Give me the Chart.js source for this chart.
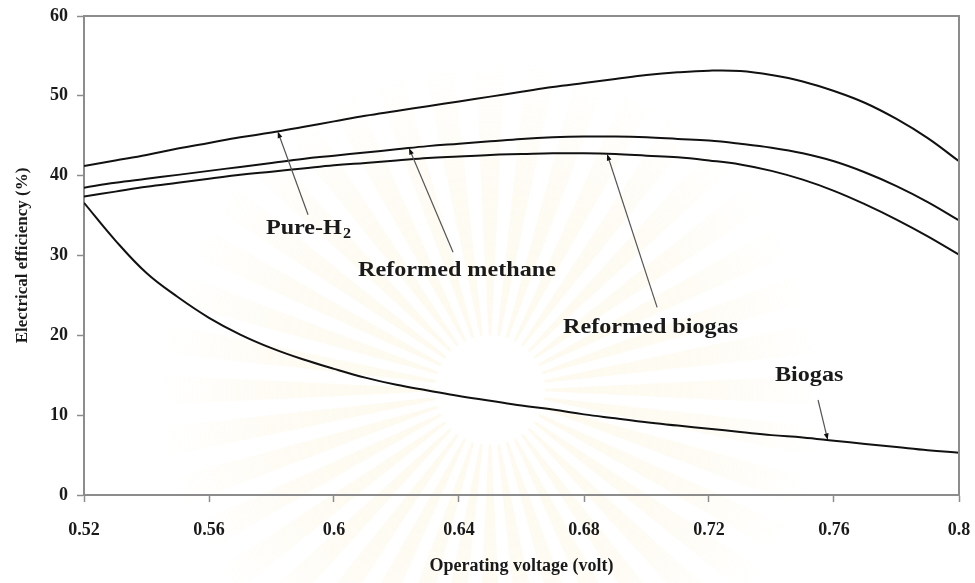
<!DOCTYPE html>
<html>
<head>
<meta charset="utf-8">
<title>Electrical efficiency vs operating voltage</title>
<script src="https://cdn.jsdelivr.net/npm/chart.js@4.4.1/dist/chart.umd.min.js"></script>
<style>
  html, body { margin: 0; padding: 0; background: #fff; }
  #wrap { width: 975px; height: 583px; }
</style>
</head>
<body>
<div id="wrap"><canvas id="myChart"></canvas></div>
<script>
// operating voltage (V)
var voltage = [0.52, 0.53, 0.54, 0.55, 0.56, 0.57, 0.58, 0.59, 0.60, 0.61,
               0.62, 0.63, 0.64, 0.65, 0.66, 0.67, 0.68, 0.69, 0.70, 0.71,
               0.72, 0.73, 0.74, 0.75, 0.76, 0.77, 0.78, 0.79, 0.80];

// electrical efficiency (%) for each fuel
var pureH2 = [41.2, 41.9, 42.6, 43.4, 44.1, 44.8, 45.4, 46.1, 46.8, 47.5,
              48.1, 48.7, 49.3, 49.9, 50.5, 51.1, 51.6, 52.1, 52.6, 52.95,
              53.15, 53.1, 52.6, 51.8, 50.6, 49.1, 47.1, 44.7, 41.8];
var reformedMethane = [38.5, 39.1, 39.6, 40.1, 40.6, 41.1, 41.6, 42.1, 42.5, 42.9,
                       43.3, 43.7, 44.0, 44.3, 44.6, 44.8, 44.9, 44.9, 44.8, 44.6,
                       44.4, 44.0, 43.5, 42.8, 41.8, 40.4, 38.7, 36.7, 34.4];
var reformedBiogas = [37.4, 38.0, 38.6, 39.1, 39.6, 40.1, 40.5, 40.9, 41.3, 41.6,
                      41.9, 42.2, 42.4, 42.6, 42.7, 42.8, 42.8, 42.7, 42.5, 42.3,
                      41.9, 41.4, 40.6, 39.5, 38.1, 36.4, 34.5, 32.4, 30.1];
var biogas = [36.6, 31.9, 27.8, 24.8, 22.2, 20.1, 18.4, 17.0, 15.8, 14.7,
              13.8, 13.1, 12.4, 11.8, 11.2, 10.7, 10.1, 9.6, 9.1, 8.7,
              8.3, 7.9, 7.5, 7.2, 6.8, 6.4, 6.0, 5.6, 5.3];

var xTicks = [0.52, 0.56, 0.6, 0.64, 0.68, 0.72, 0.76, 0.8];
var yTicks = [0, 10, 20, 30, 40, 50, 60];

var seriesNames = ["Pure-H2", "Reformed methane", "Reformed biogas", "Biogas"];
var seriesValues = [pureH2, reformedMethane, reformedBiogas, biogas];

// callouts: label text (subscript separate), label anchor, arrow tail, and
// the voltage where the arrow lands on its curve
var calloutText = ["Pure-H", "Reformed methane", "Reformed biogas", "Biogas"];
var calloutSub = ["2", "", "", ""];
var labelX = [0.5782, 0.6077, 0.6733, 0.7411];
var labelY = [33.4, 28.1, 21.0, 15.0];
var tailX = [0.5917, 0.6381, 0.7034, 0.7549];
var tailY = [35.1, 30.4, 23.5, 11.9];
var tipX = [0.582, 0.624, 0.6874, 0.758];

var axisGray = "#8c8c8c";
var serif = "'Liberation Serif', 'Times New Roman', serif";

function valueAt(series, v) {
  for (var i = 0; i < voltage.length - 1; i++) {
    if (v >= voltage[i] && v <= voltage[i + 1]) {
      var t = (v - voltage[i]) / (voltage[i + 1] - voltage[i]);
      return series[i] + t * (series[i + 1] - series[i]);
    }
  }
  return series[series.length - 1];
}

// faint sunburst emblem behind the plot
var watermark = {
  id: "watermark",
  beforeDraw: function(chart) {
    var ctx = chart.ctx;
    var cx = 490, cy = 390, r0 = 55, r1 = 330, n = 40;
    ctx.save();
    var g = ctx.createRadialGradient(cx, cy, r0, cx, cy, r1);
    g.addColorStop(0, "rgba(246, 222, 150, 0.16)");
    g.addColorStop(0.6, "rgba(246, 222, 150, 0.10)");
    g.addColorStop(1, "rgba(246, 222, 150, 0)");
    ctx.fillStyle = g;
    for (var i = 0; i < n; i++) {
      var a = i * Math.PI * 2 / n;
      ctx.beginPath();
      ctx.moveTo(cx + r0 * Math.cos(a - 0.025), cy + r0 * Math.sin(a - 0.025));
      ctx.lineTo(cx + r1 * Math.cos(a - 0.045), cy + r1 * Math.sin(a - 0.045));
      ctx.lineTo(cx + r1 * Math.cos(a + 0.045), cy + r1 * Math.sin(a + 0.045));
      ctx.lineTo(cx + r0 * Math.cos(a + 0.025), cy + r0 * Math.sin(a + 0.025));
      ctx.closePath();
      ctx.fill();
    }
    ctx.restore();
  }
};

// top and right edges of the plot frame
var frame = {
  id: "frame",
  afterDraw: function(chart) {
    var a = chart.chartArea, ctx = chart.ctx;
    ctx.save();
    ctx.strokeStyle = axisGray;
    ctx.lineWidth = 2;
    ctx.beginPath();
    ctx.moveTo(a.left, a.top);
    ctx.lineTo(a.right, a.top);
    ctx.lineTo(a.right, a.bottom);
    ctx.stroke();
    ctx.restore();
  }
};

// arrows and labels naming each curve
var callouts = {
  id: "callouts",
  afterDatasetsDraw: function(chart) {
    var ctx = chart.ctx, xs = chart.scales.x, ys = chart.scales.y;
    ctx.save();
    for (var i = 0; i < calloutText.length; i++) {
      var x0 = xs.getPixelForValue(tailX[i]), y0 = ys.getPixelForValue(tailY[i]);
      var x1 = xs.getPixelForValue(tipX[i]), y1 = ys.getPixelForValue(valueAt(seriesValues[i], tipX[i]));
      var ang = Math.atan2(y1 - y0, x1 - x0);
      ctx.strokeStyle = "#555";
      ctx.lineWidth = 1.2;
      ctx.beginPath();
      ctx.moveTo(x0, y0);
      ctx.lineTo(x1 - 4 * Math.cos(ang), y1 - 4 * Math.sin(ang));
      ctx.stroke();
      ctx.fillStyle = "#111";
      ctx.beginPath();
      ctx.moveTo(x1, y1);
      ctx.lineTo(x1 - 7 * Math.cos(ang - 0.35), y1 - 7 * Math.sin(ang - 0.35));
      ctx.lineTo(x1 - 7 * Math.cos(ang + 0.35), y1 - 7 * Math.sin(ang + 0.35));
      ctx.closePath();
      ctx.fill();

      var lx = xs.getPixelForValue(labelX[i]), ly = ys.getPixelForValue(labelY[i]);
      ctx.save();
      ctx.translate(lx, ly);
      ctx.scale(1.15, 1);
      ctx.fillStyle = "#1a1a1a";
      ctx.textBaseline = "middle";
      ctx.textAlign = "left";
      ctx.font = "bold 21px " + serif;
      ctx.fillText(calloutText[i], 0, 0);
      if (calloutSub[i]) {
        var w = ctx.measureText(calloutText[i]).width;
        ctx.font = "bold 14px " + serif;
        ctx.fillText(calloutSub[i], w + 1, 6);
      }
      ctx.restore();
    }
    ctx.restore();
  }
};

var datasets = seriesValues.map(function(vals, k) {
  return {
    label: seriesNames[k],
    data: voltage.map(function(v, i) { return {x: v, y: vals[i]}; }),
    borderColor: "#111",
    borderWidth: 2,
    pointRadius: 0,
    tension: 0.4,
    fill: false
  };
});

Chart.defaults.font.family = serif;
Chart.defaults.font.weight = "bold";
Chart.defaults.color = "#1a1a1a";

new Chart("myChart", {
  type: "line",
  data: { datasets: datasets },
  options: {
    responsive: true,
    maintainAspectRatio: false,
    animation: false,
    layout: { padding: { top: 16, right: 16, left: 0, bottom: 0 } },
    plugins: {
      legend: { display: false },
      tooltip: { enabled: false }
    },
    scales: {
      x: {
        type: "linear",
        min: 0.52,
        max: 0.8,
        afterBuildTicks: function(scale) {
          scale.ticks = xTicks.map(function(v) { return {value: v}; });
        },
        afterFit: function(scale) {
          scale.height = 88;
          scale.paddingLeft = 0;
          scale.paddingRight = 0;
        },
        ticks: {
          font: { size: 18, weight: "bold" },
          padding: 18,
          maxRotation: 0,
          callback: function(v) { return String(v); }
        },
        grid: { drawOnChartArea: false, tickLength: 7, tickColor: axisGray, tickWidth: 1.5 },
        border: { color: axisGray, width: 2 },
        title: {
          display: true,
          text: "Operating voltage (volt)",
          font: { size: 18, weight: "bold" },
          padding: { top: 0, bottom: 6 }
        }
      },
      y: {
        min: 0,
        max: 60,
        afterBuildTicks: function(scale) {
          scale.ticks = yTicks.map(function(v) { return {value: v}; });
        },
        afterFit: function(scale) {
          scale.width = 84;
          scale.paddingTop = 0;
          scale.paddingBottom = 0;
        },
        ticks: {
          font: { size: 18, weight: "bold" },
          padding: 9
        },
        grid: { drawOnChartArea: false, tickLength: 7, tickColor: axisGray, tickWidth: 1.5 },
        border: { color: axisGray, width: 2 },
        title: {
          display: true,
          text: "Electrical efficiency (%)",
          font: { size: 17, weight: "bold" },
          padding: { top: 12, bottom: 0 }
        }
      }
    }
  },
  plugins: [watermark, frame, callouts]
});
</script>
</body>
</html>
